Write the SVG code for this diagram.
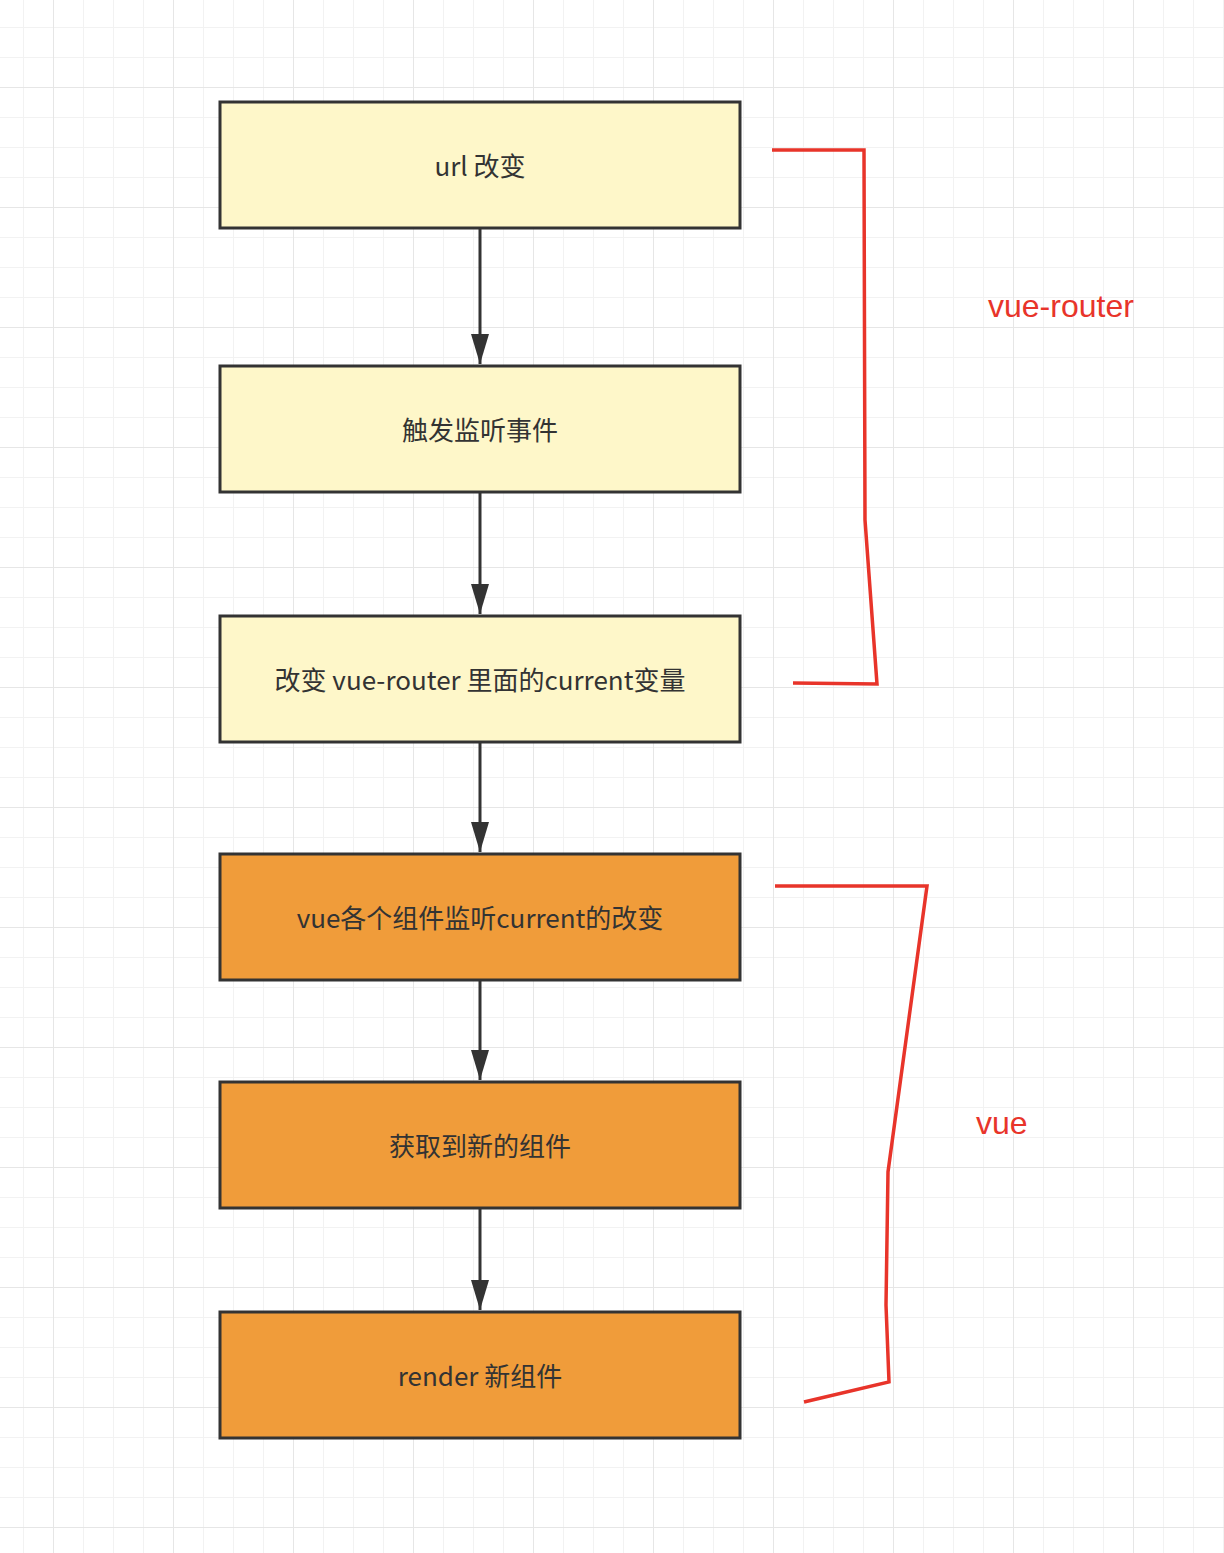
<svg xmlns="http://www.w3.org/2000/svg" width="1224" height="1553" viewBox="0 0 1224 1553">
<defs>
<pattern id="minor" x="23" y="27" width="30" height="30" patternUnits="userSpaceOnUse">
<path d="M0 0H30M0 0V30" fill="none" stroke="#f2f2f2" stroke-width="2"/>
</pattern>
<pattern id="major" x="53" y="87" width="120" height="120" patternUnits="userSpaceOnUse">
<path d="M0 0H120M0 0V120" fill="none" stroke="#e6e6e6" stroke-width="2"/>
</pattern>
<marker id="arr" viewBox="0 0 30 18" refX="30" refY="9" markerWidth="30" markerHeight="18" markerUnits="userSpaceOnUse" orient="auto">
<path d="M0 0L30 9L0 18Z" fill="#333"/>
</marker>
</defs>
<style>
.box{stroke:#333;stroke-width:3}
.y{fill:#fef7c9}
.o{fill:#f09c3a}
.t{font-family:"Noto Sans CJK SC","Noto Sans",sans-serif;font-size:26px;fill:#333;text-anchor:middle}
.c{stroke:#333;stroke-width:3;fill:none}
.br{stroke:#e8342a;stroke-width:3.5;fill:none;stroke-linejoin:miter}
.lbl{font-family:"Liberation Sans",Arial,sans-serif;font-size:32px;fill:#e8342a}
</style>
<rect width="1224" height="1553" fill="#fff"/>
<rect width="1224" height="1553" fill="url(#minor)"/>
<rect width="1224" height="1553" fill="url(#major)"/>
<g id="connectors">
<line class="c" x1="480" y1="228" x2="480" y2="364" marker-end="url(#arr)"/>
<line class="c" x1="480" y1="492" x2="480" y2="614" marker-end="url(#arr)"/>
<line class="c" x1="480" y1="742" x2="480" y2="852" marker-end="url(#arr)"/>
<line class="c" x1="480" y1="980" x2="480" y2="1080" marker-end="url(#arr)"/>
<line class="c" x1="480" y1="1208" x2="480" y2="1310" marker-end="url(#arr)"/>
</g>
<g id="n1"><rect class="box y" x="220" y="102" width="520" height="126"/><text class="t" x="480" y="176">url 改变</text></g>
<g id="n2"><rect class="box y" x="220" y="366" width="520" height="126"/><text class="t" x="480" y="440">触发监听事件</text></g>
<g id="n3"><rect class="box y" x="220" y="616" width="520" height="126"/><text class="t" x="480" y="690">改变 vue-router 里面的current变量</text></g>
<g id="n4"><rect class="box o" x="220" y="854" width="520" height="126"/><text class="t" x="480" y="928">vue各个组件监听current的改变</text></g>
<g id="n5"><rect class="box o" x="220" y="1082" width="520" height="126"/><text class="t" x="480" y="1156">获取到新的组件</text></g>
<g id="n6"><rect class="box o" x="220" y="1312" width="520" height="126"/><text class="t" x="480" y="1386">render 新组件</text></g>
<g id="bracket-router">
<polyline class="br" points="772,150 864,150 865,520 877,684 793,683"/>
<text class="lbl" x="988" y="317">vue-router</text>
</g>
<g id="bracket-vue">
<polyline class="br" points="775,886 927,886 888,1172 886,1305 889,1382 804,1402"/>
<text class="lbl" x="976" y="1134">vue</text>
</g>
</svg>
